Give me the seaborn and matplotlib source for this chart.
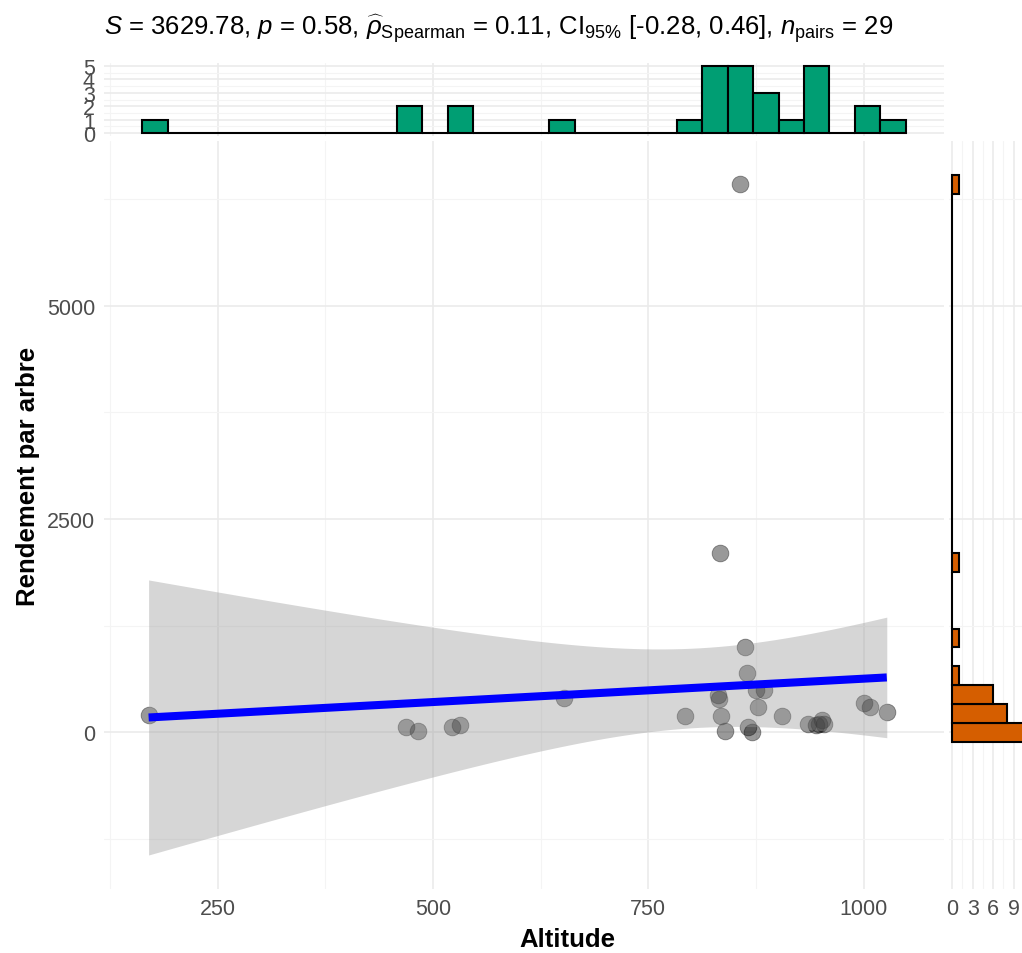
import numpy as np
import pandas as pd
import matplotlib
matplotlib.use("Agg")
import matplotlib.pyplot as plt
from matplotlib.ticker import FixedLocator
import seaborn as sns

# ---- data -------------------------------------------------------------
altitude = [170, 469, 483, 522, 531, 652, 793, 831, 832, 833, 834, 839,
            856, 862, 865, 866, 870, 875, 877, 885, 905, 935, 945, 948,
            952, 954, 1000, 1007, 1027]
rendement = [200, 63, 23, 63, 82, 400, 191, 434, 387, 2097, 191, 23,
             6420, 1000, 700, 70, 0, 493, 297, 493, 191, 102, 82, 100,
             141, 94, 348, 297, 238]

x_label = "Altitude"
y_label = "Rendement par arbre"
x_major = [250, 500, 750, 1000]
x_minor = [125, 375, 625, 875]
y_major = [0, 2500, 5000]
y_minor = [-1250, 1250, 3750, 6250]
top_counts = [0, 1, 2, 3, 4, 5]
right_counts = [0, 3, 6, 9]
subtitle = (r"$S$ = 3629.78, $p$ = 0.58, $\widehat{\rho}_{\mathrm{Spearman}}$ = 0.11, "
            r"CI$_{95\%}$ [-0.28, 0.46], $n_{\mathrm{pairs}}$ = 29")

df = pd.DataFrame({x_label: altitude, y_label: rendement})

# ---- theme ------------------------------------------------------------
sns.set_theme(style="white")
plt.rcParams["font.family"] = ["Liberation Sans", "DejaVu Sans"]
plt.rcParams["mathtext.fontset"] = "custom"
plt.rcParams["mathtext.rm"] = "Liberation Sans"
plt.rcParams["mathtext.it"] = "Liberation Sans:italic"
plt.rcParams["mathtext.bf"] = "Liberation Sans:bold"
plt.rcParams["mathtext.sf"] = "Liberation Sans"

TICK_COLOR = "#4D4D4D"
MAJOR_GRID = "#EBEBEB"
MINOR_GRID = "#F4F4F4"


def gg_bins(values, bins=30):
    """Histogram breaks computed the way ggplot2 does for `bins=`."""
    v = np.asarray(values, float)
    lo, hi = v.min(), v.max()
    w = (hi - lo) / (bins - 1)
    boundary = w / 2
    origin = boundary + np.floor((lo - boundary) / w) * w
    n = int(np.floor((hi + (1 - 1e-8) * w - origin) / w)) + 1
    return origin + w * np.arange(n)


# ---- linear fit with 95% confidence band -------------------------------
xs = np.asarray(altitude, float)
ys = np.asarray(rendement, float)
n = len(xs)
slope, intercept = np.polyfit(xs, ys, 1)
grid = np.linspace(xs.min(), xs.max(), 80)
fit = intercept + slope * grid
resid = ys - (intercept + slope * xs)
s_err = np.sqrt(np.sum(resid ** 2) / (n - 2))
se = s_err * np.sqrt(1 / n + (grid - xs.mean()) ** 2 / np.sum((xs - xs.mean()) ** 2))
t_crit = 2.0518  # Student t, 0.975 quantile, 27 df
band_lo = fit - t_crit * se
band_hi = fit + t_crit * se

x_edges = gg_bins(altitude)
y_edges = gg_bins(rendement)
top_hist, _ = np.histogram(xs, bins=x_edges)
right_hist, _ = np.histogram(ys, bins=y_edges)

xlo, xhi = min(x_edges[0], xs.min()), max(x_edges[-1], xs.max())
ylo = min(band_lo.min(), y_edges[0], ys.min())
yhi = max(band_hi.max(), y_edges[-1], ys.max())
xpad, ypad = 0.05 * (xhi - xlo), 0.05 * (yhi - ylo)

# ---- figure layout ----------------------------------------------------
W, H = 1022, 954
fig = plt.figure(figsize=(W / 100, H / 100), dpi=100)
ax = fig.add_axes([104 / W, 1 - 890 / H, 840 / W, 748 / H])
ax_top = fig.add_axes([104 / W, 1 - 137.4 / H, 840 / W, 73.8 / H])
ax_right = fig.add_axes([948.5 / W, 1 - 890 / H, 82.5 / W, 748 / H])


def style_axis(a):
    for sp in a.spines.values():
        sp.set_visible(False)
    a.set_axisbelow(True)
    a.grid(which="major", color=MAJOR_GRID, linewidth=1.2)
    a.grid(which="minor", color=MINOR_GRID, linewidth=0.8)
    a.tick_params(which="major", length=3.5, width=1.0, color="#333333",
                  labelsize=15.5, labelcolor=TICK_COLOR, pad=3)
    a.tick_params(which="minor", length=0)


# main scatter
sns.scatterplot(data=df, x=x_label, y=y_label, ax=ax, color="black",
                alpha=0.4, s=145, edgecolor="black", linewidth=0.6, zorder=2)
ax.fill_between(grid, band_lo, band_hi, color="#999999", alpha=0.4,
                linewidth=0, zorder=3)
ax.plot(grid, fit, color="blue", linewidth=5.8, solid_capstyle="butt", zorder=4)
ax.set_xlim(xlo - xpad, xhi + xpad)
ax.set_ylim(ylo - ypad, yhi + ypad)
ax.xaxis.set_major_locator(FixedLocator(x_major))
ax.xaxis.set_minor_locator(FixedLocator(x_minor))
ax.yaxis.set_major_locator(FixedLocator(y_major))
ax.yaxis.set_minor_locator(FixedLocator(y_minor))
style_axis(ax)
ax.set_xlabel("")
ax.set_ylabel("")

# top marginal histogram
sns.histplot(x=altitude, bins=x_edges, ax=ax_top, color="#009E73",
             edgecolor="black", linewidth=1.5, alpha=1, zorder=2)
ax_top.set_xlim(ax.get_xlim())
ax_top.set_ylim(-0.05 * top_hist.max(), 1.05 * top_hist.max())
ax_top.xaxis.set_major_locator(FixedLocator(x_major))
ax_top.xaxis.set_minor_locator(FixedLocator(x_minor))
ax_top.yaxis.set_major_locator(FixedLocator(top_counts))
ax_top.yaxis.set_minor_locator(FixedLocator([c + 0.5 for c in top_counts[:-1]]))
style_axis(ax_top)
ax_top.tick_params(axis="x", which="both", length=0, labelbottom=False)
ax_top.set_xlabel("")
ax_top.set_ylabel("")

# right marginal histogram
sns.histplot(y=rendement, bins=y_edges, ax=ax_right, color="#D55E00",
             edgecolor="black", linewidth=1.5, alpha=1, zorder=2)
ax_right.set_ylim(ax.get_ylim())
ax_right.set_xlim(-0.05 * right_hist.max(), 1.05 * right_hist.max())
ax_right.xaxis.set_major_locator(FixedLocator(right_counts))
ax_right.xaxis.set_minor_locator(FixedLocator([c + 1.5 for c in right_counts]))
ax_right.yaxis.set_major_locator(FixedLocator(y_major))
ax_right.yaxis.set_minor_locator(FixedLocator(y_minor))
style_axis(ax_right)
ax_right.tick_params(axis="y", which="both", length=0, labelleft=False)
ax_right.set_xlabel("")
ax_right.set_ylabel("")

# texts
fig.text(104 / W, 1 - 29 / H, subtitle, ha="left", va="center",
         fontsize=18.5, color="black")
fig.text(567 / W, 1 - 940 / H, x_label, ha="center", va="center",
         fontsize=18.5, fontweight="bold", color="black")
fig.text(28 / W, 1 - 476 / H, y_label, ha="center", va="center",
         rotation=90, fontsize=18.5, fontweight="bold", color="black")

fig.savefig("out.png", dpi=100)
